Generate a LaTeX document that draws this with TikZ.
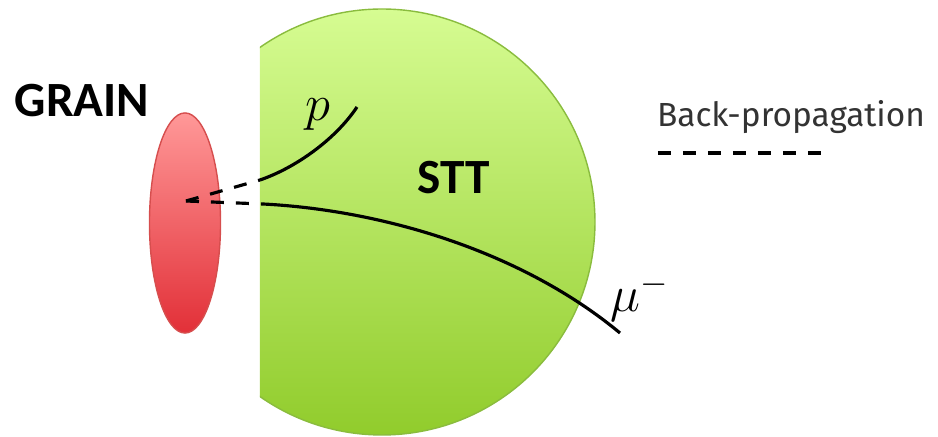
\documentclass[tikz,border=0pt]{standalone}
\usepackage{fontspec}
\setmainfont{Fira Sans}
\newfontfamily\calibri{Carlito}
\usetikzlibrary{shapes.geometric,positioning,calc}

\definecolor{sttTop}{RGB}{214,252,146}
\definecolor{sttBot}{RGB}{145,204,44}
\definecolor{sttLine}{RGB}{138,188,62}
\definecolor{grainTop}{RGB}{255,152,152}
\definecolor{grainBot}{RGB}{226,48,56}
\definecolor{grainLine}{RGB}{214,78,78}

\begin{document}
\begin{tikzpicture}[x=0.01cm, y=-0.01cm,
    track/.style={line width=0.9pt, black},
    backprop/.style={line width=0.9pt, black, dash pattern=on 3.7pt off 3.4pt},
    title/.style={font=\calibri\bfseries\fontsize{14}{16}\selectfont}
]
    \useasboundingbox (0,0) rectangle (938,437);

    % STT volume, cut on the left
    \begin{scope}
        \clip (260,0) rectangle (938,437);
        \shade[top color=sttTop, bottom color=sttBot, draw=sttLine] (382,222) circle (213);
    \end{scope}

    % GRAIN
    \node[ellipse, minimum width=0.71cm, minimum height=2.2cm, draw=grainLine,
          top color=grainTop, bottom color=grainBot] (grain) at (185,223) {};

    \node[title] (grainlbl) at (82,101) {GRAIN};
    \node[title] (sttlbl) at (454,178) {STT};

    % vertex and tracks
    \coordinate (vtx) at (186,201);
    \coordinate (pin) at (260,180);
    \coordinate (muin) at (263,204);
    \coordinate (pend) at (357,107);
    \coordinate (muend) at (620,333);

    \draw[backprop] (vtx) -- (pin);
    \draw[backprop] (vtx) -- (muin);
    \draw[track] (pin) .. controls (295,168) and (335,140) .. (pend);
    \draw[track] (muin) .. controls (380,210) and (520,250) .. (muend);

    \node[font=\Large] (plbl) at (318,115) {$p$};
    \node[font=\Large] (mulbl) at (640,297) {$\mu^-$};

    % legend
    \node[font=\fontsize{9.5}{11}\selectfont, text=black!80] (leg) at (791,117) {Back-propagation};
    \coordinate (legA) at (658,153);
    \coordinate (legB) at (830,153);
    \draw[backprop] (legA) -- (legB);
\end{tikzpicture}
\end{document}
